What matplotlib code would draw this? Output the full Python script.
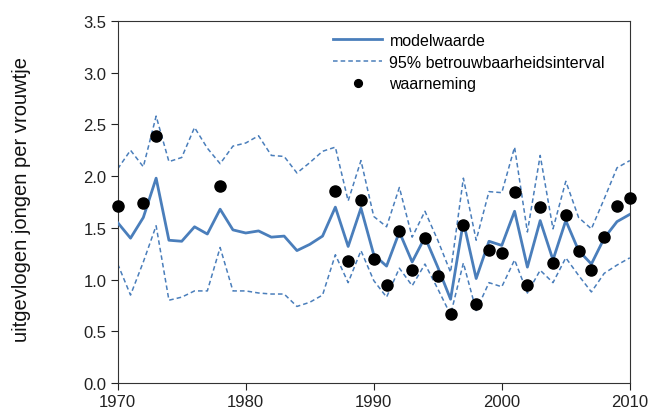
import numpy as np
import matplotlib.pyplot as plt

plt.rcParams['font.family'] = ['Liberation Sans', 'DejaVu Sans']

# jaren 1970-2010
jaren = np.arange(1970, 2011)

modelwaarde = [1.55, 1.40, 1.60, 1.98, 1.38, 1.37, 1.51, 1.44, 1.68, 1.48,
               1.45, 1.47, 1.41, 1.42, 1.28, 1.34, 1.42, 1.70, 1.32, 1.69,
               1.24, 1.13, 1.46, 1.17, 1.41, 1.12, 0.81, 1.56, 1.01, 1.37,
               1.33, 1.66, 1.12, 1.57, 1.19, 1.57, 1.28, 1.15, 1.40, 1.56,
               1.63]

bovengrens = [2.07, 2.25, 2.09, 2.58, 2.14, 2.18, 2.47, 2.27, 2.12, 2.29,
              2.32, 2.39, 2.20, 2.19, 2.03, 2.13, 2.24, 2.28, 1.76, 2.15,
              1.61, 1.51, 1.89, 1.41, 1.66, 1.38, 1.07, 1.98, 1.38, 1.85,
              1.84, 2.28, 1.46, 2.20, 1.49, 1.95, 1.60, 1.49, 1.78, 2.08,
              2.15]

ondergrens = [1.15, 0.85, 1.17, 1.52, 0.80, 0.83, 0.89, 0.89, 1.31, 0.89,
              0.89, 0.87, 0.86, 0.86, 0.74, 0.78, 0.85, 1.24, 0.97, 1.28,
              0.99, 0.83, 1.11, 0.94, 1.15, 0.91, 0.66, 1.16, 0.70, 0.97,
              0.93, 1.19, 0.87, 1.09, 0.97, 1.21, 1.04, 0.88, 1.06, 1.14,
              1.21]

# waarnemingen (jaar, waarde)
obs_jaar = [1970, 1972, 1973, 1978, 1987, 1988, 1989, 1990, 1991, 1992,
            1993, 1994, 1995, 1996, 1997, 1998, 1999, 2000, 2001, 2002,
            2003, 2004, 2005, 2006, 2007, 2008, 2009, 2010]
obs_waarde = [1.71, 1.74, 2.39, 1.90, 1.86, 1.18, 1.77, 1.20, 0.95, 1.47,
              1.09, 1.40, 1.03, 0.67, 1.53, 0.76, 1.29, 1.26, 1.85, 0.95,
              1.70, 1.16, 1.62, 1.28, 1.09, 1.41, 1.71, 1.79]

blauw = '#4a7ebb'

fig = plt.figure(figsize=(6.54, 4.14), dpi=100)
ax = fig.add_axes([0.180, 0.0725, 0.783, 0.8745])

ax.plot(jaren, modelwaarde, color=blauw, lw=2.0, label='modelwaarde', zorder=3)
ax.plot(jaren, bovengrens, color=blauw, lw=1.1, ls=(0, (3, 2)),
        label='95% betrouwbaarheidsinterval', zorder=2)
ax.plot(jaren, ondergrens, color=blauw, lw=1.1, ls=(0, (3, 2)), zorder=2)
ax.plot(obs_jaar, obs_waarde, 'o', color='black', ms=8, ls='none',
        label='waarneming', zorder=4, clip_on=False)

ax.set_xlim(1970, 2010)
ax.set_ylim(0, 3.5)
ax.set_xticks([1970, 1980, 1990, 2000, 2010])
ax.set_yticks(np.arange(0, 3.51, 0.5))
ax.set_yticklabels(['%.1f' % v for v in np.arange(0, 3.51, 0.5)])
ax.tick_params(labelsize=12, colors='#222222', length=5, width=0.8, pad=3)

fig.text(22 / 654, 1 - 199 / 414, 'uitgevlogen jongen per vrouwtje',
         rotation=90, ha='center', va='center', fontsize=14.5, color='#111111')

for s in ax.spines.values():
    s.set_color('#333333')
    s.set_linewidth(0.8)

leg = ax.legend(loc='upper left', bbox_to_anchor=(0.42, 0.967), frameon=False,
                fontsize=11.5, handlelength=3.1, handletextpad=0.45,
                labelspacing=0.42, borderaxespad=0, borderpad=0,
                markerscale=0.7)

fig.savefig('out.png', dpi=100)
